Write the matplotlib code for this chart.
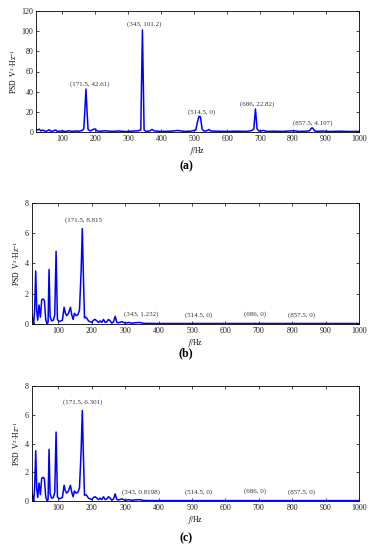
import matplotlib
matplotlib.use('Agg')
import matplotlib.pyplot as plt
import numpy as np

plt.rcParams['font.family'] = ['Liberation Serif', 'DejaVu Serif']
plt.rcParams['mathtext.fontset'] = 'stix'
plt.rcParams['mathtext.default'] = 'regular'

# panel (a): PSD of the original signal
freq_a = [20, 25, 30, 35, 40, 50, 60, 65, 70, 80, 85, 90, 100, 110, 120, 130, 140,
          150, 160, 165, 168, 171.5, 175, 178, 185, 195, 200, 205, 215, 230, 250, 270,
          290, 310, 330, 338, 343, 348, 355, 365, 372, 380, 400, 430, 450, 470, 490,
          505, 510, 514.5, 519, 524, 530, 540, 545, 550, 570, 600, 630, 660, 675, 681,
          686, 691, 697, 710, 720, 740, 770, 800, 820, 840, 850, 854, 857.5, 861, 865,
          875, 890, 910, 940, 970, 1000]
psd_a = [2.5, 2.0, 2.8, 1.0, 2.0, 0.5, 2.2, 0.6, 0.8, 2.0, 0.5, 0.8, 1.0, 0.5, 1.2, 0.6, 1.0,
         0.8, 1.5, 3.0, 20.0, 42.6, 20.0, 2.5, 1.0, 2.8, 3.0, 1.0, 0.8, 1.2, 0.6, 1.0,
         0.5, 0.8, 1.2, 2.0, 101.2, 2.0, 0.5, 1.0, 2.5, 1.0, 0.6, 0.8, 1.5, 0.6, 0.8,
         2.0, 10.0, 15.5, 15.0, 3.0, 0.8, 1.5, 2.5, 1.0, 0.8, 0.6, 0.8, 0.6, 1.5, 3.0,
         22.8, 3.0, 0.8, 1.5, 0.6, 0.8, 0.6, 1.2, 0.6, 0.8, 1.2, 3.0, 4.2, 3.5, 1.2,
         0.6, 1.0, 0.5, 0.8, 0.5, 0.6]

# panels (b) and (c): PSD after filtering (same curve)
freq_bc = [20, 23, 26, 29, 32, 35, 38, 42, 46, 50, 54, 58, 62, 66, 69, 72, 75, 80, 85,
           89, 93, 97, 102, 107, 112, 117, 121, 125, 130, 136, 140, 144, 148, 153, 158,
           163, 168, 171.5, 175, 178, 182, 186, 190, 195, 200, 205, 210, 215, 220, 225,
           230, 235, 240, 245, 250, 255, 260, 265, 270, 275, 280, 290, 300, 310, 320,
           330, 343, 355, 400, 1000]
psd_bc = [0.6, 0.3, 0.0, 1.0, 3.5, 0.9, 0.25, 1.25, 0.45, 1.6, 1.65, 1.55, 0.3, 0.0, 0.1,
          3.6, 0.5, 0.2, 0.25, 0.6, 4.8, 0.3, 0.15, 0.2, 0.25, 1.1, 0.7, 0.55, 0.7, 1.1,
          0.6, 0.3, 0.7, 0.55, 0.6, 0.9, 3.5, 6.3, 3.0, 0.4, 0.45, 0.35, 0.2, 0.15, 0.1,
          0.25, 0.3, 0.2, 0.1, 0.2, 0.1, 0.3, 0.1, 0.15, 0.3, 0.2, 0.05, 0.15, 0.5, 0.1,
          0.08, 0.15, 0.05, 0.1, 0.05, 0.08, 0.1, 0.04, 0.03, 0.03]

# annotations: (text, x, y)
notes_a = [('(171.5, 42.61)', 184, 47.6), ('(343, 101.2)', 349, 107), ('(514.5, 0)', 523, 19.5),
           ('(686, 22.82)', 690, 28), ('(857.5, 4.197)', 860, 9.2)]
notes_b = [('(171.5, 8.815', 174, 6.84), ('(343, 1.232)', 347, 0.64), ('(514.5, 0)', 519, 0.6),
           ('(686, 0)', 688, 0.68), ('(857.5, 0)', 828, 0.6)]
notes_c = [('(171.5, 6.301)', 174, 6.87), ('(343, 0.8198)', 347, 0.6), ('(514.5, 0)', 519, 0.6),
           ('(686, 0)', 688, 0.68), ('(857.5, 0)', 828, 0.6)]

fig = plt.figure(figsize=(3.72, 5.5), dpi=100)

panels = [
    ([0.0968, 0.760, 0.868, 0.220], freq_a, psd_a, notes_a, (0, 120), np.arange(0, 121, 20), '(a)', 166),
    ([0.0852, 0.411, 0.880, 0.220], freq_bc, psd_bc, notes_b, (0, 8), np.arange(0, 9, 2), '(b)', 353),
    ([0.0852, 0.089, 0.880, 0.209], freq_bc, psd_bc, notes_c, (0, 8), np.arange(0, 9, 2), '(c)', 538),
]

for rect, fx, fy, notes, ylim, yticks, tag, tag_y in panels:
    ax = fig.add_axes(rect)
    ax.plot(fx, fy, color='#0000ff', lw=1.1)
    ax.set_xlim(20, 1000)
    ax.set_ylim(*ylim)
    ax.set_xticks(np.arange(100, 1001, 100))
    ax.set_yticks(yticks)
    ax.tick_params(direction='in', top=True, right=True, length=2.5, width=0.5,
                   labelsize=5.8, pad=2, labelcolor='#222222')
    for s in ax.spines.values():
        s.set_linewidth(0.6)
    for txt, x, y in notes:
        ax.text(x, y, txt, fontsize=5, ha='center', va='center', color='#333333')
    ax.set_xlabel('$\\mathit{f}$/Hz', fontsize=5.5, labelpad=1.5)
    ax.set_ylabel('PSD  V$^{2}$·Hz$^{-1}$', fontsize=5.5, labelpad=2)
    fig.text(0.5, 1 - tag_y / 550, tag, fontsize=8.5, fontweight='bold',
             ha='center', va='center')

fig.savefig('out.png', dpi=100)
